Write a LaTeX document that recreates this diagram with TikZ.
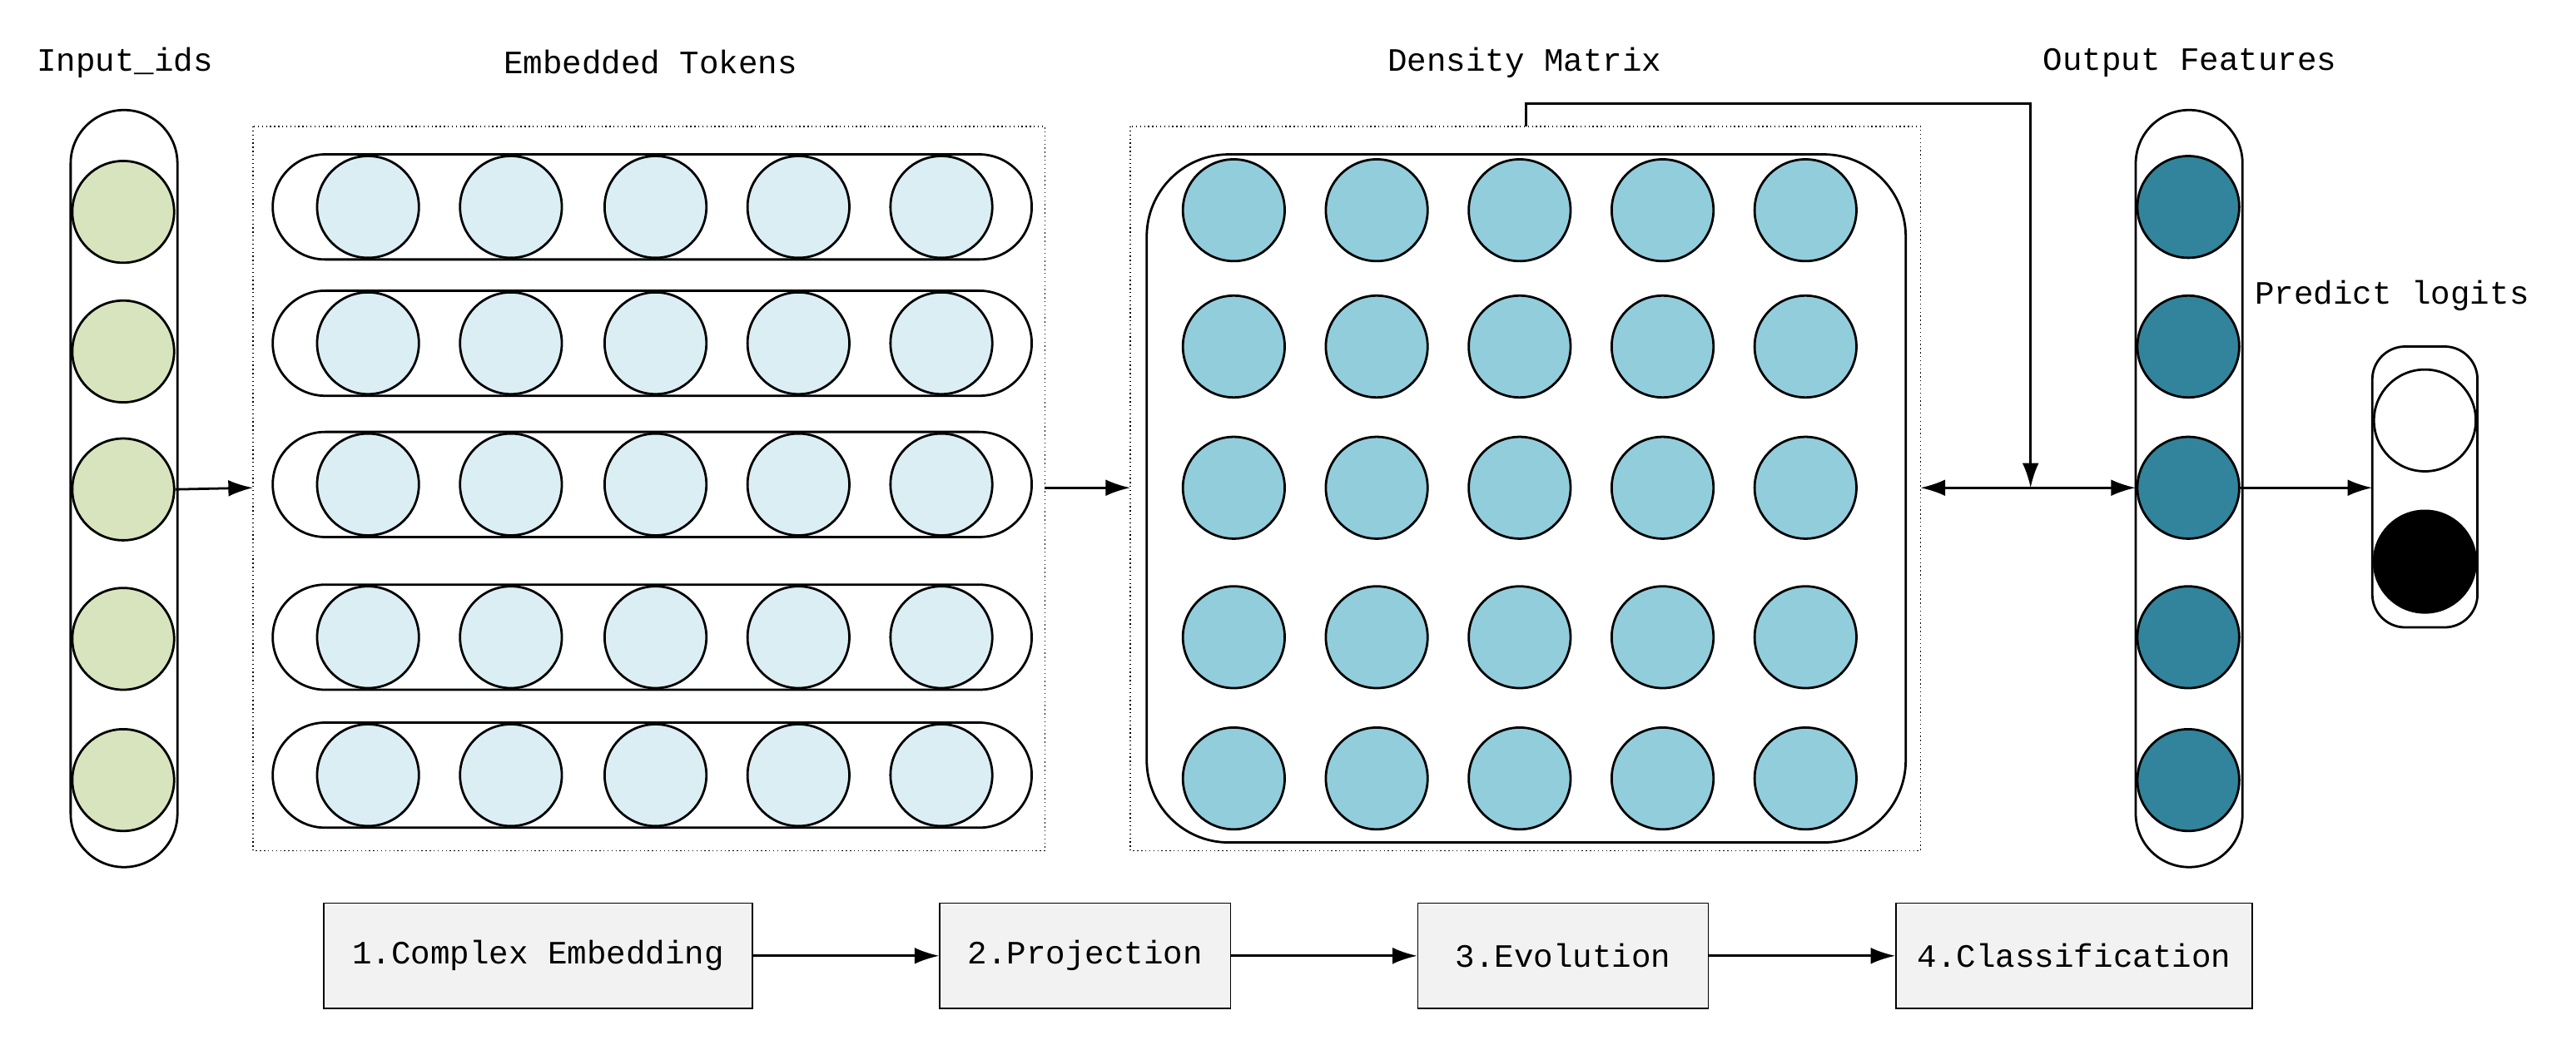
\documentclass[tikz,border=0pt]{standalone}
\usepackage{fontspec}
\setmainfont{Liberation Mono}
\usetikzlibrary{positioning,arrows.meta}
\definecolor{inputc}{HTML}{D7E4BD}
\definecolor{embedc}{HTML}{DAEEF3}
\definecolor{densec}{HTML}{92CDDC}
\definecolor{outc}{HTML}{31849B}
\definecolor{stagec}{HTML}{F2F2F2}
\tikzset{
  neuron/.style={circle,draw,thick,minimum size=1.24cm,inner sep=0pt},
  capsule/.style={draw,thick,rounded corners=0.64cm},
  stage/.style={draw,fill=stagec,minimum height=1.28cm,inner sep=0pt,font=\fontsize{11.3}{13}\selectfont},
  title/.style={font=\fontsize{11.3}{13}\selectfont},
  link/.style={thick,-{Latex[length=0.3cm,width=0.2cm]}},
}
\begin{document}
\begin{tikzpicture}[x=0.02cm,y=-0.02cm]
    \useasboundingbox (0,0) rectangle (1568,636);
    % Titles
    \node[title] (tin) at (76,38) {Input\_ids};
    \node[title] (temb) at (396,38) {Embedded Tokens};
    \node[title] (tden) at (928,38) {Density Matrix};
    \node[title] (tout) at (1333,38) {Output Features};
    \node[title] (tlog) at (1456,180) {Predict logits};
    % Input ids
    \draw[capsule,rounded corners=0.65cm] (43,67) rectangle (108,528);
    \foreach \y [count=\i] in {129,214,298,389,475}
        \node[neuron,fill=inputc] (in\i) at (75,\y) {};
    % Embedded tokens
    \draw[densely dotted] (154,77) rectangle (636,518);
    \foreach \y [count=\r] in {126,209,295,388,472} {
        \draw[capsule] (166,\y-32) rectangle (628,\y+32);
        \foreach \x [count=\c] in {224,311,399,486,573}
            \node[neuron,fill=embedc] (emb\r\c) at (\x,\y) {};
    }
    % Density matrix
    \draw[densely dotted] (688,77) rectangle (1169,518);
    \draw[thick,rounded corners=1cm] (698,94) rectangle (1160,513);
    \foreach \y [count=\r] in {128,211,297,388,474}
        \foreach \x [count=\c] in {751,838,925,1012,1099}
            \node[neuron,fill=densec] (den\r\c) at (\x,\y) {};
    % Output features
    \draw[capsule,rounded corners=0.65cm] (1300,67) rectangle (1365,528);
    \foreach \y [count=\i] in {126,211,297,388,475}
        \node[neuron,fill=outc] (out\i) at (1332,\y) {};
    % Logits
    \draw[thick,rounded corners=0.4cm] (1444,211) rectangle (1508,382);
    \node[neuron,fill=white] (log1) at (1476,256) {};
    \node[neuron,fill=black] (log2) at (1476,342) {};
    % Connections
    \coordinate (ein) at (154,297);
    \coordinate (eout) at (636,297);
    \coordinate (din) at (688,297);
    \coordinate (dout) at (1169,297);
    \coordinate (oin) at (1300,297);
    \coordinate (oout) at (1365,297);
    \coordinate (lin) at (1444,297);
    \coordinate (fb) at (1236,297);
    \draw[link] (in3.east) -- (ein);
    \draw[link] (eout) -- (din);
    \draw[link,{Latex[length=0.3cm,width=0.2cm]}-{Latex[length=0.3cm,width=0.2cm]}] (dout) -- (oin);
    \draw[link] (929,77) |- (1236,63) -- (fb);
    \draw[link] (out3.east) -- (lin);
    % Stages
    \node[stage,minimum width=5.22cm] (s1) at (327.5,582) {1.Complex Embedding};
    \node[stage,minimum width=3.54cm] (s2) at (660.5,582) {2.Projection};
    \node[stage,minimum width=3.54cm] (s3) at (951.5,582) {3.Evolution};
    \node[stage,minimum width=4.34cm] (s4) at (1262.5,582) {4.Classification};
    \draw[link] (s1) -- (s2);
    \draw[link] (s2) -- (s3);
    \draw[link] (s3) -- (s4);
\end{tikzpicture}
\end{document}
